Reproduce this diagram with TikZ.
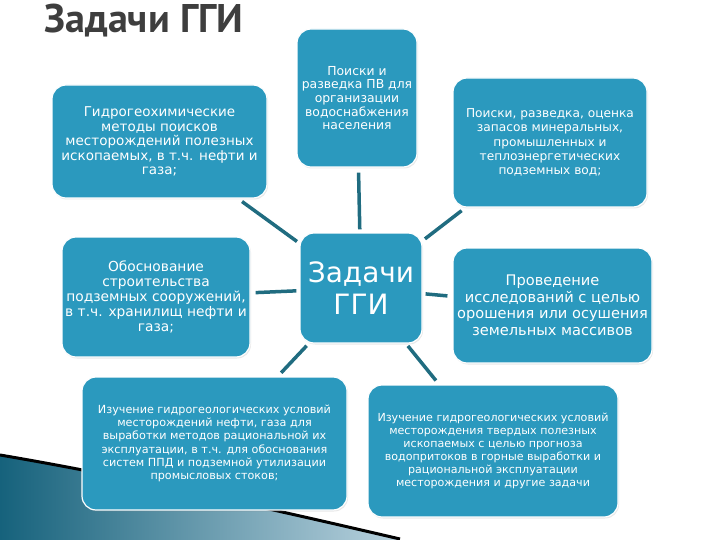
\documentclass[tikz,border=0pt]{standalone}
\usepackage{fontspec}
\setmainfont{DejaVu Sans}
\newfontfamily\headfont{PT Sans}
\usetikzlibrary{shadows}

\definecolor{taskblue}{RGB}{43,153,190}
\definecolor{linkteal}{RGB}{32,108,128}
\definecolor{headgray}{RGB}{62,62,62}
\definecolor{swooshdark}{RGB}{22,98,124}
\definecolor{swooshmid}{RGB}{42,140,176}
\definecolor{swooshlight}{RGB}{185,210,222}

\newcommand{\boxfont}[2]{\fontsize{#1}{#2}\selectfont}
\tikzstyle{taskbox} = [rectangle, rounded corners=14pt, fill=taskblue, draw=white, line width=1.2pt,
  text=white, align=center, inner sep=0pt,
  drop shadow={opacity=0.18, shadow xshift=1pt, shadow yshift=-1.5pt}]
\tikzstyle{link} = [linkteal, line width=3.5pt, shorten <=5pt, shorten >=3pt]

\begin{document}
\begin{tikzpicture}[x=1pt, y=-1pt]
  \useasboundingbox (0, 0) rectangle (720, 540);
  % decorative corner
  \shade[left color=swooshdark, middle color=swooshmid, right color=swooshlight]
    (0, 456) .. controls (130, 478) and (280, 512) .. (400, 540) -- (0, 540) -- cycle;
  \draw[black, line width=3pt] (0, 455) .. controls (130, 477) and (280, 511) .. (400, 539);
  % heading
  \node[anchor=base west, text=headgray, font=\headfont\bfseries\fontsize{40}{44}\selectfont]
    (head) at (41, 33) {Задачи ГГИ};
  % tasks
  \node[taskbox, minimum width=215pt, minimum height=113pt, font=\boxfont{13.5}{14.5}]
    (hydrochem) at (159.5, 141.5)
    {Гидрогеохимические\\методы поисков\\месторождений полезных\\ископаемых, в т.ч. нефти и\\газа;};
  \node[taskbox, minimum width=120pt, minimum height=138pt, font=\boxfont{12.4}{13.7}]
    (supply) at (357, 98)
    {Поиски и\\разведка ПВ для\\организации\\водоснабжения\\населения};
  \node[taskbox, minimum width=194pt, minimum height=129pt, font=\boxfont{12.2}{14.2}]
    (mineral) at (550, 142.5)
    {Поиски, разведка, оценка\\запасов минеральных,\\промышленных и\\теплоэнергетических\\подземных вод;};
  \node[taskbox, minimum width=188pt, minimum height=120pt, font=\boxfont{13.8}{15}]
    (storage) at (156, 297)
    {Обоснование\\строительства\\подземных сооружений,\\в т.ч. хранилищ нефти и\\газа;};
  \node[taskbox, minimum width=122pt, minimum height=110pt, font=\boxfont{28}{32}]
    (core) at (361, 288) {Задачи\\ГГИ};
  \node[taskbox, minimum width=199pt, minimum height=115pt, font=\boxfont{14.6}{16.5}]
    (irrigation) at (552.5, 305.5)
    {Проведение\\исследований с целью\\орошения или осушения\\земельных массивов};
  \node[taskbox, minimum width=265pt, minimum height=133pt, font=\boxfont{11.2}{13.3}]
    (oilfield) at (214.5, 443.5)
    {Изучение гидрогеологических условий\\месторождений нефти, газа для\\выработки методов рациональной их\\эксплуатации, в т.ч. для обоснования\\систем ППД и подземной утилизации\\промысловых стоков;};
  \node[taskbox, minimum width=250pt, minimum height=132pt, font=\boxfont{11.1}{13}]
    (solid) at (493, 451)
    {Изучение гидрогеологических условий\\месторождения твердых полезных\\ископаемых с целью прогноза\\водопритоков в горные выработки и\\рациональной эксплуатации\\месторождения и другие задачи};
  % links to the centre
  \foreach \src in {hydrochem, supply, mineral, storage, irrigation, oilfield, solid} {
    \draw[link] (\src) -- (core);
  }
\end{tikzpicture}
\end{document}
